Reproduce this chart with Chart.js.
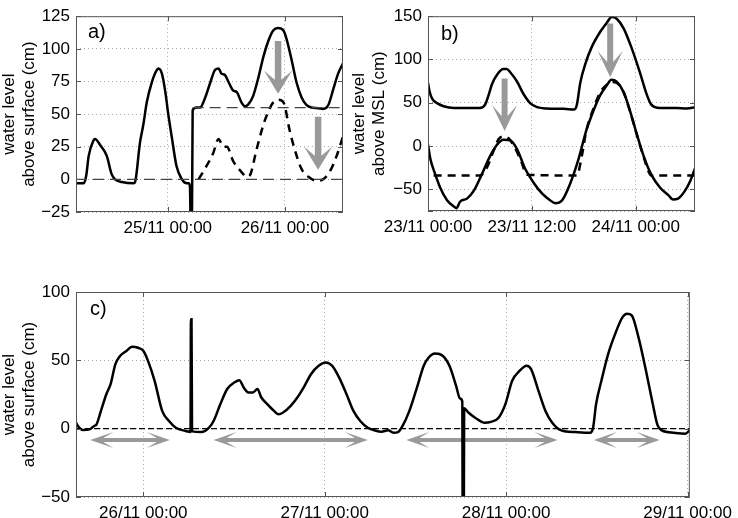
<!DOCTYPE html>
<html lang="en">
<head>
  <meta charset="UTF-8" />
  <title>Water level panels</title>
  <script src="https://cdn.jsdelivr.net/npm/chart.js"></script>
  <style>
    html, body { margin: 0; padding: 0; background: #fff; }
    body { width: 738px; height: 518px; position: relative; overflow: hidden; }
    .panel { position: absolute; }
  </style>
</head>
<body>
  <div class="panel" style="left:0;top:0;width:360px;height:240px"><canvas id="chartA"></canvas></div>
  <div class="panel" style="left:350px;top:0;width:388px;height:240px"><canvas id="chartB"></canvas></div>
  <div class="panel" style="left:0;top:270px;width:738px;height:248px"><canvas id="chartC"></canvas></div>

  <script>
    // panel a) hours after 25/11 00:00
    const aHours = [-18.8, -17.2, -16.7, -16.2, -15.2, -14.9, -13.8, -12.5, -11.5, -10.8, -9.4, -7.0, -6.7, -5.7, -5.0, -4.3, -3.3, -2.2, -1.9, -1.2, -0.5, 0.1, 0.8, 1.8, 2.9, 3.9, 4.3, 4.55, 4.7, 4.95, 5.1, 5.9, 6.6, 7.6, 8.7, 9.7, 10.4, 11.0, 11.7, 12.4, 13.4, 14.1, 15.1, 15.8, 16.5, 17.5, 18.5, 19.6, 20.6, 21.6, 22.6, 23.7, 24.3, 25.4, 26.4, 27.4, 28.4, 29.4, 30.8, 31.8, 32.9, 33.9, 34.9, 35.9];
    const aLevel = [-3, -3, 3, 18, 30, 31, 26, 18, 4, 0, -2, -3, -2, 28, 42, 59, 74, 84, 85, 81, 67, 50, 33, 10, 0, -3, -3, -6, -35, -35, 53, 55, 55, 62, 74, 84, 85, 81, 80, 75, 68, 67, 59, 56, 57.5, 64, 77, 94, 106, 114, 116, 114, 108, 91, 74, 63, 57, 55, 54.5, 54, 57, 69, 81, 89];
    const aCorrHours = [6.3, 7.6, 9.3, 10.4, 11.4, 12.1, 13.4, 15.1, 16.2, 16.8, 18.2, 19.6, 20.6, 21.6, 22.6, 23.7, 25.0, 26.0, 27.4, 28.8, 30.5, 31.8, 33.2, 34.6, 35.9];
    const aCorrLevel = [0, 8, 20, 31, 25, 25, 14, 5.6, 2, 3, 23, 42, 52, 59, 61, 59, 37, 23, 8, 2, -1, 0, 6, 18, 33];
    const aRefHours = [[-18.8, 35.9], [5.1, 35.9]];
    const aRefLevel = [0, 55];
    const aArrowX = [22.6, 30.8];
    const aArrowFrom = [106, 48];
    const aArrowTo = [65.5, 7.3];
    const aYTicks = [-25, 0, 25, 50, 75, 100, 125];
    const aXTicks = [0, 24];
    const aXLabels = ['25/11 00:00', '26/11 00:00'];

    // panel b) hours after 23/11 00:00
    const bHours = [0, 0.2, 0.46, 1.04, 1.8, 3.0, 4.9, 6.0, 6.6, 7.0, 7.4, 8.0, 8.7, 9.1, 9.5, 10.3, 11.0, 11.8, 12.6, 13.7, 15.7, 16.9, 17.2, 17.6, 18.2, 18.9, 19.9, 20.7, 21.2, 21.8, 22.6, 23.5, 24.5, 25.3, 25.8, 26.8, 28.7, 29.9, 30.85];
    const bObserved = [72.8, 62.5, 55, 49.6, 46, 44, 44, 44, 47.8, 58.8, 71.7, 82.7, 89, 89, 85.3, 74.3, 60.7, 49.6, 44.9, 43.4, 43, 42.3, 47.8, 73.5, 95.6, 114, 132, 143, 149, 147, 136, 114, 84.6, 58.8, 47.8, 44, 44, 43.4, 44.9];
    const bLowHours = [0, 0.27, 0.85, 1.4, 2.2, 3.0, 3.3, 3.7, 4.5, 5.3, 6.2, 7.2, 8.15, 8.7, 9.5, 10.3, 11.2, 12.2, 13.2, 14.1, 14.7, 15.5, 16.4, 17.4, 18.3, 19.1, 19.9, 20.65, 21.2, 21.8, 22.6, 23.35, 24.1, 24.9, 25.8, 26.8, 27.8, 28.3, 28.9, 29.7, 30.3, 30.85];
    const bShifted = [1.8, -14.7, -33, -47.8, -62.5, -69.9, -71.7, -64.3, -60.7, -51.5, -33, -11, 3.7, 7.4, 6.6, -3.7, -25.7, -42.3, -55, -62.5, -66, -62.5, -44, -14.7, 18.4, 40.4, 58.8, 69.9, 76.5, 74.3, 62.5, 40.4, 14.7, -11, -33, -47.8, -57, -61.8, -60.7, -51.5, -40.4, -25.7];
    const bModelHours = [0.65, 6.0, 6.8, 7.6, 8.15, 8.7, 9.3, 10.1, 10.85, 11.4, 17.2, 17.8, 18.3, 19.1, 19.9, 20.65, 21.2, 21.8, 22.6, 23.35, 24.1, 24.9, 25.5, 25.8, 30.85];
    const bModel = [-34, -34, -25, -5, 8, 11, 9, -3, -20, -33, -34, -10, 18, 43, 62, 71, 74, 73, 62, 40, 14, -12, -30, -34, -34];
    const bArrowX = [8.85, 21.05];
    const bArrowFrom = [78, 141.5];
    const bArrowTo = [17.3, 79.8];
    const bYTicks = [-75, -50, 0, 50, 100, 150];
    const bXTicks = [0, 12, 24];
    const bXLabels = ['23/11 00:00', '23/11 12:00', '24/11 00:00'];

    // panel c) hours after 26/11 00:00
    const cHours = [-8.9, -8.65, -8.0, -7.1, -6.5, -6.2, -5.6, -4.9, -4.3, -3.7, -3.1, -2.2, -1.5, -0.6, 0, 0.6, 1.5, 2.5, 3.4, 4.3, 5.6, 6.25, 6.3, 6.38, 6.45, 7.7, 8.7, 9.3, 10.2, 11.1, 12.1, 12.7, 13.3, 13.9, 14.5, 15.1, 15.6, 16.4, 17.3, 17.9, 18.5, 19.5, 20.4, 21.3, 22.2, 23.2, 24.1, 25.0, 25.9, 26.9, 27.8, 28.7, 29.7, 30.6, 31.5, 32.4, 33.1, 33.7, 34.3, 35.2, 36.2, 37.1, 37.7, 38.6, 39.6, 40.5, 41.4, 41.9, 42.2, 42.25, 42.4, 42.45, 43.0, 43.9, 45.1, 46.0, 47.0, 47.9, 48.8, 49.8, 50.7, 51.3, 52.2, 53.2, 54.1, 55.3, 57.2, 59.1, 59.5, 59.9, 60.6, 61.5, 62.4, 63.4, 64.0, 64.6, 65.5, 66.4, 67.4, 68.0, 68.6, 70.2, 71.7, 72.3];
    const cLevel = [4.4, 2, -1, -0.5, 2, 3, 13, 25, 33, 47, 53, 57, 60, 59, 57, 50, 35, 13, 5.6, 0.7, -1.7, -2.5, 80, 80, -2, -2.5, 0.7, 5.6, 18, 29, 34, 35.5, 30, 26.5, 26.5, 29, 23, 18, 13, 10.5, 11.8, 16.7, 23, 31, 40, 46, 48.5, 46, 37.5, 25, 13, 5.6, 0.7, -1.2, -2.2, -1.2, -3, -2.5, 2, 13, 30, 46, 51.7, 55, 53.4, 46, 31, 22, 20, -60, -60, 15, 11.8, 8, 4.4, 5, 8, 18, 35, 42.4, 46, 43.6, 29, 13, 4.4, -1.2, -2.5, -3, 0.7, 18, 35, 54.7, 69, 81.6, 84, 83, 67, 45, 18, 3, -1.2, -3, -3.7, -1.2];
    const cRefHours = [-8.9, 72.3];
    const cRefLevel = 0;
    const cSpanStart = [-7.0, 9.3, 34.8, 59.6];
    const cSpanEnd = [3.5, 29.7, 54.8, 68.3];
    const cSpanLevel = -8.3;
    const cYTicks = [-50, 0, 50, 100];
    const cXTicks = [0, 24, 48, 72];
    const cXLabels = ['26/11 00:00', '27/11 00:00', '28/11 00:00', '29/11 00:00'];

    const FONT = '"Liberation Sans", Arial, Helvetica, sans-serif';
    const pts = (xs, ys) => xs.map((x, i) => ({ x, y: ys[i] }));

    function downArrow(ctx, x, yTop, yTip, h) {
      const s = h.shaft / 2;
      ctx.beginPath();
      ctx.moveTo(x, yTip);
      ctx.lineTo(x + h.w, yTip - h.len);
      ctx.lineTo(x + s, yTip - h.notch);
      ctx.lineTo(x + s, yTop);
      ctx.lineTo(x - s, yTop);
      ctx.lineTo(x - s, yTip - h.notch);
      ctx.lineTo(x - h.w, yTip - h.len);
      ctx.closePath();
      ctx.fill();
    }

    function bothArrow(ctx, x0, x1, y, h) {
      const s = h.shaft / 2;
      ctx.beginPath();
      ctx.moveTo(x0, y);
      ctx.lineTo(x0 + h.len, y - h.w);
      ctx.lineTo(x0 + h.notch, y - s);
      ctx.lineTo(x1 - h.notch, y - s);
      ctx.lineTo(x1 - h.len, y - h.w);
      ctx.lineTo(x1, y);
      ctx.lineTo(x1 - h.len, y + h.w);
      ctx.lineTo(x1 - h.notch, y + s);
      ctx.lineTo(x0 + h.notch, y + s);
      ctx.lineTo(x0 + h.len, y + h.w);
      ctx.closePath();
      ctx.fill();
    }

    const decor = {
      id: 'decor',
      beforeDatasetsDraw(chart, args, opts) {
        const { ctx } = chart;
        const xs = chart.scales.x, ys = chart.scales.y;
        ctx.save();
        ctx.fillStyle = '#999999';
        (opts.down || []).forEach(a => downArrow(ctx, xs.getPixelForValue(a[0]), ys.getPixelForValue(a[1]), ys.getPixelForValue(a[2]), opts.head));
        (opts.both || []).forEach(a => bothArrow(ctx, xs.getPixelForValue(a[0]), xs.getPixelForValue(a[1]), ys.getPixelForValue(a[2]), opts.head));
        ctx.restore();
      },
      afterDatasetsDraw(chart, args, opts) {
        const { ctx, chartArea: ca } = chart;
        const xs = chart.scales.x, ys = chart.scales.y;
        ctx.save();
        ctx.strokeStyle = '#555555';
        ctx.lineWidth = 1;
        ctx.strokeRect(ca.left + 0.5, ca.top + 0.5, ca.width - 1, ca.height - 1);
        ctx.beginPath();
        xs.ticks.forEach(t => {
          const p = Math.round(xs.getPixelForValue(t.value)) + 0.5;
          ctx.moveTo(p, ca.bottom); ctx.lineTo(p, ca.bottom - 5);
          ctx.moveTo(p, ca.top); ctx.lineTo(p, ca.top + 5);
        });
        ys.ticks.forEach(t => {
          const p = Math.round(ys.getPixelForValue(t.value)) + 0.5;
          ctx.moveTo(ca.left, p); ctx.lineTo(ca.left + 5, p);
          ctx.moveTo(ca.right, p); ctx.lineTo(ca.right - 5, p);
        });
        ctx.stroke();
        ctx.fillStyle = '#000';
        ctx.font = '20px ' + FONT;
        ctx.textBaseline = 'alphabetic';
        ctx.fillText(opts.label, ca.left + opts.lx, ca.top + opts.ly);
        ctx.restore();
      }
    };

    function solid(data, w) {
      return { data, borderColor: '#000', borderWidth: w || 2.5, pointRadius: 0, cubicInterpolationMode: 'monotone', fill: false };
    }
    function dashed(data, dash, color, w) {
      return { data, borderColor: color, borderWidth: w, borderDash: dash, pointRadius: 0, tension: 0, fill: false };
    }

    function makePanel(id, cfg) {
      return new Chart(document.getElementById(id), {
        type: 'line',
        data: { datasets: cfg.datasets },
        options: {
          animation: false,
          responsive: true,
          maintainAspectRatio: false,
          layout: { padding: { top: cfg.top, right: cfg.right, left: 0, bottom: 0 } },
          plugins: { legend: { display: false }, tooltip: { enabled: false }, decor: cfg.decor },
          scales: {
            x: {
              type: 'linear', min: cfg.xMin, max: cfg.xMax,
              afterBuildTicks: axis => { axis.ticks = cfg.xTicks.map(v => ({ value: v })); },
              afterFit: axis => { axis.height = cfg.xH; },
              grid: { color: '#aaaaaa', lineWidth: 1, drawTicks: false },
              border: { display: false, dash: [1, 3] },
              ticks: {
                autoSkip: false, maxRotation: 0, padding: 6, color: '#000',
                font: { family: FONT, size: 17 },
                callback: (v, i) => cfg.xLabels[i]
              }
            },
            y: {
              type: 'linear', min: cfg.yMin, max: cfg.yMax,
              afterBuildTicks: axis => { axis.ticks = cfg.yTicks.map(v => ({ value: v })); },
              afterFit: axis => { axis.width = cfg.yW; },
              grid: { color: '#aaaaaa', lineWidth: 1, drawTicks: false },
              border: { display: false, dash: [1, 3] },
              title: {
                display: true, text: cfg.yTitle, color: '#000', padding: 0,
                font: { family: FONT, size: 17, lineHeight: 1.15 }
              },
              ticks: {
                padding: 6, color: '#000',
                font: { family: FONT, size: 17 },
                callback: v => cfg.yLabels.includes(v) ? String(v).replace('-', '\u2212') : ''
              }
            }
          }
        },
        plugins: [decor]
      });
    }

    makePanel('chartA', {
      datasets: [
        dashed(pts(aRefHours[0], [aRefLevel[0], aRefLevel[0]]), [11, 6], '#444444', 1.3),
        dashed(pts(aRefHours[1], [aRefLevel[1], aRefLevel[1]]), [11, 6], '#444444', 1.3),
        Object.assign(dashed(pts(aCorrHours, aCorrLevel), [8, 6], '#000', 2.5), { cubicInterpolationMode: 'monotone' }),
        solid(pts(aHours, aLevel))
      ],
      top: 7, right: 17, xH: 28, yW: 76,
      xMin: -18.8, xMax: 35.9, yMin: -25, yMax: 125,
      xTicks: aXTicks, xLabels: aXLabels, yTicks: aYTicks, yLabels: aYTicks,
      yTitle: ['water level', 'above surface (cm)'],
      decor: {
        label: 'a)', lx: 12, ly: 22,
        head: { len: 23, w: 14, notch: 14, shaft: 6.5 },
        down: aArrowX.map((x, i) => [x, aArrowFrom[i], aArrowTo[i]])
      }
    });

    makePanel('chartB', {
      datasets: [
        Object.assign(dashed(pts(bModelHours, bModel), [8, 6], '#000', 2.5), { cubicInterpolationMode: 'monotone' }),
        solid(pts(bLowHours, bShifted)),
        solid(pts(bHours, bObserved))
      ],
      top: 7, right: 43, xH: 29, yW: 78,
      xMin: 0, xMax: 30.85, yMin: -75, yMax: 150,
      xTicks: bXTicks, xLabels: bXLabels, yTicks: bYTicks, yLabels: [-50, 0, 50, 100, 150],
      yTitle: ['water level', 'above MSL (cm)'],
      decor: {
        label: 'b)', lx: 13, ly: 24,
        head: { len: 26, w: 12.5, notch: 15, shaft: 6 },
        down: bArrowX.map((x, i) => [x, bArrowFrom[i], bArrowTo[i]])
      }
    });

    makePanel('chartC', {
      datasets: [
        dashed(pts(cRefHours, [cRefLevel, cRefLevel]), [6, 3], '#000', 1.2),
        solid(pts(cHours, cLevel))
      ],
      top: 22, right: 43, xH: 21, yW: 76,
      xMin: -8.9, xMax: 72.3, yMin: -50, yMax: 100,
      xTicks: cXTicks, xLabels: cXLabels, yTicks: cYTicks, yLabels: cYTicks,
      yTitle: ['water level', 'above surface (cm)'],
      decor: {
        label: 'c)', lx: 14, ly: 23,
        head: { len: 23, w: 8, notch: 13, shaft: 4 },
        both: cSpanStart.map((x, i) => [x, cSpanEnd[i], cSpanLevel])
      }
    });
  </script>
</body>
</html>
